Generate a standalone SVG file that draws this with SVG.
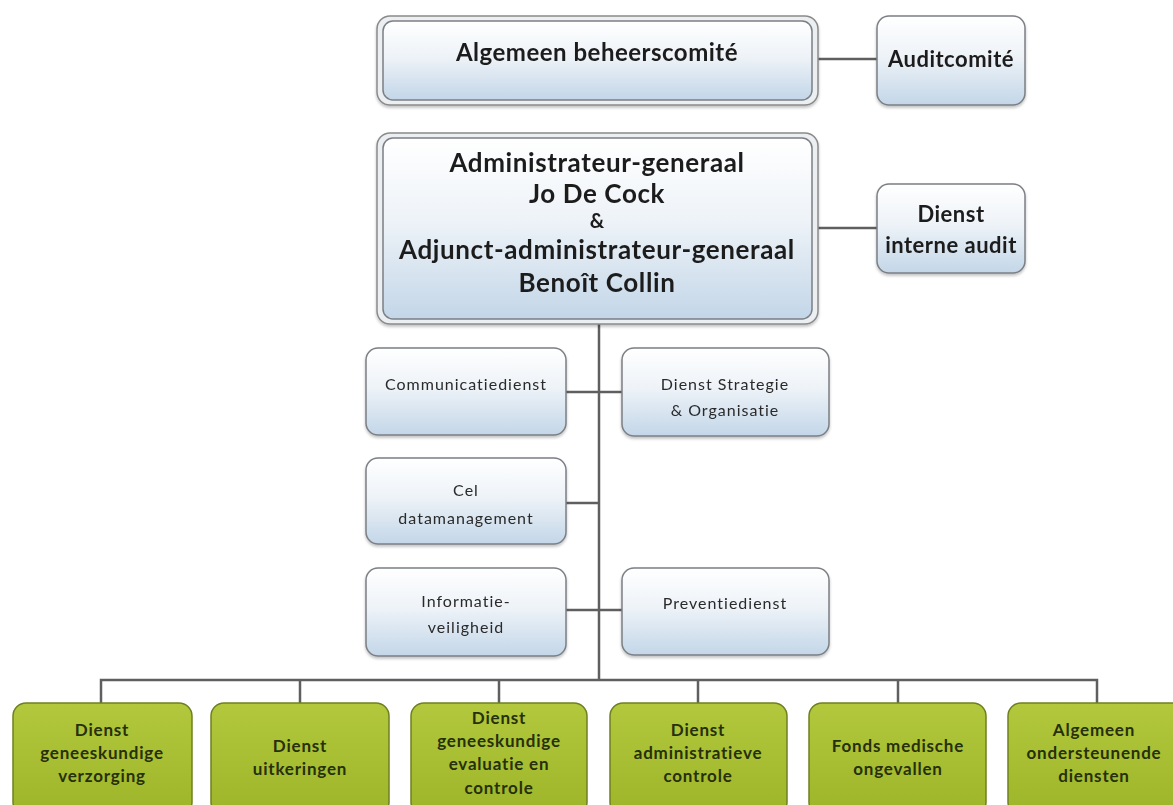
<svg xmlns="http://www.w3.org/2000/svg" width="1173" height="805" viewBox="0 0 1173 805">
  <defs>
    <linearGradient id="blueFill" x1="0" y1="0" x2="0" y2="1">
      <stop offset="0" stop-color="#ffffff"/>
      <stop offset="0.45" stop-color="#eef3f8"/>
      <stop offset="1" stop-color="#c3d6e8"/>
    </linearGradient>
    <linearGradient id="greenFill" x1="0" y1="0" x2="0" y2="1">
      <stop offset="0" stop-color="#b3c83c"/>
      <stop offset="1" stop-color="#9db52a"/>
    </linearGradient>
    <filter id="soft" x="-5%" y="-5%" width="110%" height="115%">
      <feGaussianBlur in="SourceAlpha" stdDeviation="1.5"/>
      <feOffset dx="0" dy="1.5"/>
      <feComponentTransfer><feFuncA type="linear" slope="0.25"/></feComponentTransfer>
      <feMerge><feMergeNode/><feMergeNode in="SourceGraphic"/></feMerge>
    </filter>
  </defs>
  <style>
    .frame { fill: #eceff2; stroke: #8a8a8a; stroke-width: 1.5; }
    .blue { fill: url(#blueFill); stroke: #7b7f84; stroke-width: 1.5; }
    .green { fill: url(#greenFill); stroke: #6f8020; stroke-width: 1.5; }
    .link { stroke: #5f5f5f; stroke-width: 2.5; fill: none; }
    text { font-family: Lato, "Liberation Sans", sans-serif; text-anchor: middle; }
    .big { font-size: 26px; font-weight: bold; fill: #1c1c1c; letter-spacing: 0.6px; }
    .title { font-size: 24px; font-weight: bold; fill: #1c1c1c; letter-spacing: 0.5px; }
    .amp { font-size: 20px; font-weight: bold; fill: #1c1c1c; }
    .mid { font-size: 22px; font-weight: bold; fill: #1c1c1c; letter-spacing: 0.5px; }
    .small { font-size: 16px; fill: #2a2a2a; letter-spacing: 1px; }
    .gt { font-size: 17px; font-weight: bold; fill: #26300a; letter-spacing: 0.8px; }
  </style>
  <rect width="1173" height="805" fill="#ffffff"/>

  <!-- connectors -->
  <g id="connectors" class="link">
    <line x1="818" y1="59" x2="877" y2="59"/>
    <line x1="818" y1="228" x2="877" y2="228"/>
    <line x1="599" y1="324" x2="599" y2="680"/>
    <line x1="566" y1="392" x2="622" y2="392"/>
    <line x1="566" y1="503" x2="599" y2="503"/>
    <line x1="566" y1="610" x2="622" y2="610"/>
    <polyline points="101,703 101,680 1097,680 1097,703"/>
    <line x1="300" y1="680" x2="300" y2="703"/>
    <line x1="499" y1="680" x2="499" y2="703"/>
    <line x1="698" y1="680" x2="698" y2="703"/>
    <line x1="898" y1="680" x2="898" y2="703"/>
  </g>

  <!-- governing board -->
  <g id="beheerscomite" filter="url(#soft)">
    <rect class="frame" x="377" y="16" width="441" height="89" rx="13"/>
    <rect class="blue" x="383" y="21" width="429" height="79" rx="10"/>
    <text class="title" x="597" y="61">Algemeen beheerscomité</text>
  </g>

  <g id="auditcomite" filter="url(#soft)">
    <rect class="blue" x="877" y="16" width="148" height="89" rx="12"/>
    <text class="mid" x="951" y="67">Auditcomité</text>
  </g>

  <!-- general management -->
  <g id="administrateur" filter="url(#soft)">
    <rect class="frame" x="377" y="133" width="441" height="191" rx="13"/>
    <rect class="blue" x="383" y="138" width="429" height="181" rx="10"/>
    <text class="big" x="597" y="172">Administrateur-generaal</text>
    <text class="big" x="597" y="203">Jo De Cock</text>
    <text class="amp" x="597" y="228">&amp;</text>
    <text class="big" x="597" y="259">Adjunct-administrateur-generaal</text>
    <text class="big" x="597" y="292">Benoît Collin</text>
  </g>

  <g id="interne-audit" filter="url(#soft)">
    <rect class="blue" x="877" y="184" width="148" height="89" rx="12"/>
    <text class="mid" x="951" y="222">Dienst</text>
    <text class="mid" x="951" y="253">interne audit</text>
  </g>

  <!-- staff services -->
  <g id="communicatiedienst" filter="url(#soft)">
    <rect class="blue" x="366" y="348" width="200" height="87" rx="12"/>
    <text class="small" x="466" y="390">Communicatiedienst</text>
  </g>

  <g id="strategie" filter="url(#soft)">
    <rect class="blue" x="622" y="348" width="207" height="88" rx="12"/>
    <text class="small" x="725" y="390">Dienst Strategie</text>
    <text class="small" x="725" y="416">&amp; Organisatie</text>
  </g>

  <g id="datamanagement" filter="url(#soft)">
    <rect class="blue" x="366" y="458" width="200" height="86" rx="12"/>
    <text class="small" x="466" y="496">Cel</text>
    <text class="small" x="466" y="524">datamanagement</text>
  </g>

  <g id="informatieveiligheid" filter="url(#soft)">
    <rect class="blue" x="366" y="568" width="200" height="88" rx="12"/>
    <text class="small" x="466" y="607">Informatie-</text>
    <text class="small" x="466" y="633">veiligheid</text>
  </g>

  <g id="preventiedienst" filter="url(#soft)">
    <rect class="blue" x="622" y="568" width="207" height="87" rx="12"/>
    <text class="small" x="725" y="609">Preventiedienst</text>
  </g>

  <!-- operational services -->
  <g id="verzorging">
    <rect class="green" x="13" y="703" width="179" height="112" rx="13"/>
    <text class="gt" x="102" y="736">Dienst</text>
    <text class="gt" x="102" y="759">geneeskundige</text>
    <text class="gt" x="102" y="782">verzorging</text>
  </g>

  <g id="uitkeringen">
    <rect class="green" x="211" y="703" width="178" height="112" rx="13"/>
    <text class="gt" x="300" y="752">Dienst</text>
    <text class="gt" x="300" y="775">uitkeringen</text>
  </g>

  <g id="evaluatie">
    <rect class="green" x="411" y="703" width="176" height="112" rx="13"/>
    <text class="gt" x="499" y="724">Dienst</text>
    <text class="gt" x="499" y="747">geneeskundige</text>
    <text class="gt" x="499" y="770">evaluatie en</text>
    <text class="gt" x="499" y="794">controle</text>
  </g>

  <g id="administratieve-controle">
    <rect class="green" x="610" y="703" width="177" height="112" rx="13"/>
    <text class="gt" x="698" y="736">Dienst</text>
    <text class="gt" x="698" y="759">administratieve</text>
    <text class="gt" x="698" y="782">controle</text>
  </g>

  <g id="fonds-medische-ongevallen">
    <rect class="green" x="809" y="703" width="177" height="112" rx="13"/>
    <text class="gt" x="898" y="752">Fonds medische</text>
    <text class="gt" x="898" y="775">ongevallen</text>
  </g>

  <g id="ondersteunende-diensten">
    <rect class="green" x="1008" y="703" width="178" height="112" rx="13"/>
    <text class="gt" x="1094" y="736">Algemeen</text>
    <text class="gt" x="1094" y="759">ondersteunende</text>
    <text class="gt" x="1094" y="782">diensten</text>
  </g>
</svg>
